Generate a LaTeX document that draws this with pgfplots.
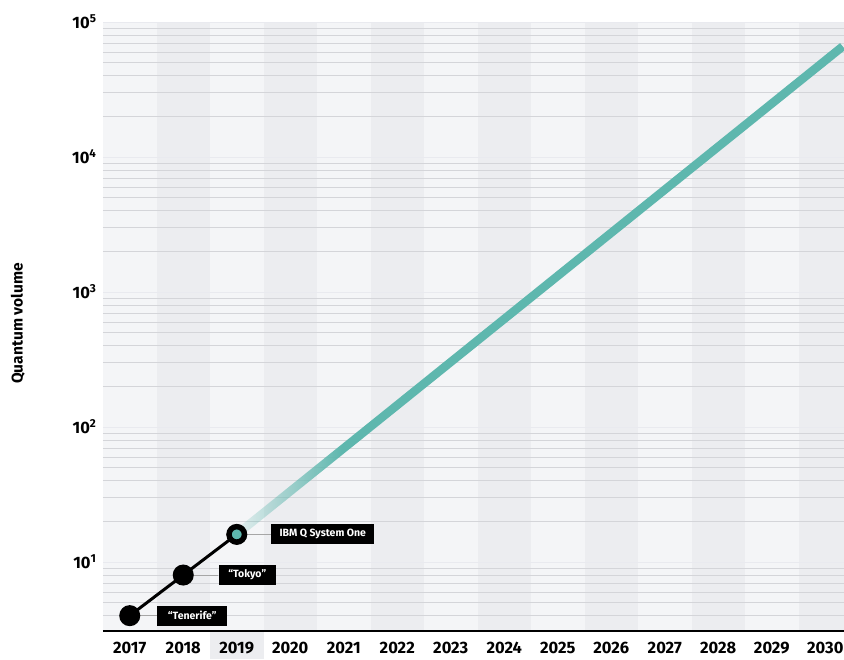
\documentclass[border=0pt]{standalone}
\usepackage{pgfplots}
\pgfplotsset{compat=1.18}
\usepackage{fontspec}
\setmainfont{Fira Sans}
\usetikzlibrary{fadings}

\definecolor{qteal}{RGB}{94,183,174}
\definecolor{bandA}{RGB}{244,245,247}
\definecolor{bandB}{RGB}{236,237,240}
\definecolor{gridc}{RGB}{212,213,217}

\begin{document}%
% fading fitted to the path: -25bp..25bp spans its length
\begin{tikzfadingfrompicture}[name=tealfade]%
  \fill[transparent!100] (-100bp,-100bp) rectangle (-24.2bp,100bp);
  \shade[left color=transparent!85, right color=transparent!0] (-24.2bp,-100bp) rectangle (-16bp,100bp);
  \fill[transparent!0] (-16bp,-100bp) rectangle (100bp,100bp);
\end{tikzfadingfrompicture}%
\begin{tikzpicture}[
  lbl/.style={fill=black, text=white, font=\bfseries\fontsize{10.5}{12}\selectfont,
              minimum height=20pt, inner xsep=5pt, anchor=west}
]
% column bands
\begin{axis}[scale only axis, width=741pt, height=609pt, ymode=log,
  xmin=2016.5, xmax=2030.35, ymin=3.08, ymax=1e5, hide axis, clip=false]
\fill[bandA] (axis cs:2016.5,3.08) rectangle (axis cs:2030.35,1e5);
\fill[bandB] (axis cs:2017.5,3.08) rectangle (axis cs:2018.5,1e5);
\fill[bandB] (axis cs:2019.5,3.08) rectangle (axis cs:2020.5,1e5);
\fill[bandB] (axis cs:2021.5,3.08) rectangle (axis cs:2022.5,1e5);
\fill[bandB] (axis cs:2023.5,3.08) rectangle (axis cs:2024.5,1e5);
\fill[bandB] (axis cs:2025.5,3.08) rectangle (axis cs:2026.5,1e5);
\fill[bandB] (axis cs:2027.5,3.08) rectangle (axis cs:2028.5,1e5);
\fill[bandB] (axis cs:2029.5,3.08) rectangle (axis cs:2030.35,1e5);
\fill[bandB] (axis cs:2018.5,1.9) rectangle (axis cs:2019.5,3.08);
\end{axis}

% frame, grid
\begin{axis}[
  scale only axis, width=741pt, height=609pt, ymode=log,
  xmin=2016.5, xmax=2030.35, ymin=3.08, ymax=1e5,
  axis x line*=bottom,
  axis y line*=left,
  x axis line style={line width=2.6pt, black},
  y axis line style={draw=none},
  tick style={draw=none},
  xtick={2017,2018,2019,2020,2021,2022,2023,2024,2025,2026,2027,2028,2029,2030},
  xticklabels={2017,2018,2019,2020,2021,2022,2023,2024,2025,2026,2027,2028,2029,2030},
  xticklabel style={font=\bfseries\fontsize{16.5}{19}\selectfont, anchor=center, yshift=-17pt},
  ytick={10,100,1000,10000,100000},
  yticklabels={10\textsuperscript{1},10\textsuperscript{2},10\textsuperscript{3},10\textsuperscript{4},10\textsuperscript{5}},
  yticklabel style={font=\bfseries\fontsize{16.5}{19}\selectfont, anchor=east, xshift=-3pt},
  minor ytick={4,5,6,7,8,9,20,30,40,50,60,70,80,90,200,300,400,500,600,700,800,900,
               2000,3000,4000,5000,6000,7000,8000,9000,20000,30000,40000,50000,60000,70000,80000,90000},
  ymajorgrids, yminorgrids,
  major grid style={draw=gridc!110!black, line width=0.8pt},
  minor grid style={draw=gridc, line width=0.7pt},
  ylabel={Quantum volume},
  ylabel style={font=\bfseries\fontsize{15.5}{18}\selectfont, at={(axis description cs:-0.115,0.505)}, anchor=center},
]
\end{axis}

% projected growth, faded in at its start
\begin{axis}[scale only axis, width=741pt, height=609pt, ymode=log,
  xmin=2016.5, xmax=2030.35, ymin=3.08, ymax=1e5, hide axis]
\addplot[qteal, line width=8.5pt, path fading=tealfade, fit fading=true]
  coordinates {(2019,16) (2030.35,67000)};
\end{axis}

% measured systems and their names
\begin{axis}[scale only axis, width=741pt, height=609pt, ymode=log,
  xmin=2016.5, xmax=2030.35, ymin=3.08, ymax=1e5, hide axis, clip=false]
\draw[gray!70, line width=1pt] (axis cs:2017,4) -- ++(27pt,0pt) node[lbl, minimum width=70pt] {“Tenerife”};
\draw[gray!70, line width=1pt] (axis cs:2018,8) -- ++(35pt,0pt) node[lbl, minimum width=57pt] {“Tokyo”};
\draw[gray!70, line width=1pt] (axis cs:2019,16) -- ++(34pt,0pt) node[lbl, minimum width=103pt] {IBM Q System One};
\addplot[black, line width=3pt, mark=*, mark size=9pt]
  coordinates {(2017,4) (2018,8) (2019,16)};
\addplot[only marks, mark=*, mark size=7.5pt, mark options={fill=qteal, draw=black, line width=5pt}]
  coordinates {(2019,16)};
\end{axis}

\pgfresetboundingbox
\path[use as bounding box] ([xshift=-103pt,yshift=-29pt]current axis.south west) rectangle ([yshift=22pt]current axis.north east);
\end{tikzpicture}%
\end{document}
